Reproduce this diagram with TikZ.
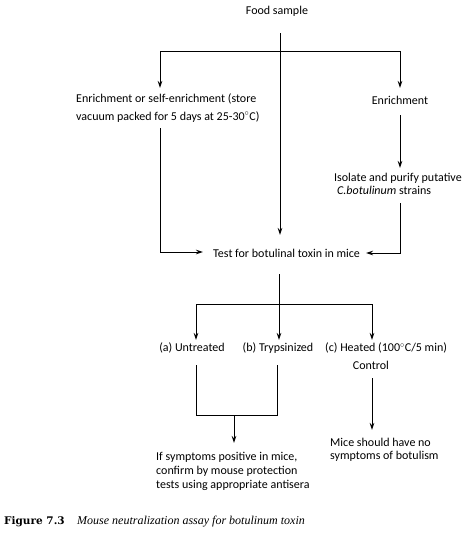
\documentclass[tikz,border=0pt]{standalone}
\usepackage{fontspec}
\setmainfont{Carlito}
\newfontfamily\capfont{Liberation Serif}
\newfontfamily\figfont{DejaVu Serif}
\usetikzlibrary{arrows.meta}
\begin{document}
\begin{tikzpicture}[x=1pt,y=-1pt,
  lbl/.style={inner sep=0pt,font=\fontsize{12}{14}\selectfont},
  ln/.style={line width=1pt},
  arr/.style={line width=1pt,-{Stealth[length=7pt,width=4.5pt]}}]
\useasboundingbox (0,0) rectangle (468,533);
% text nodes
\node[lbl] (food) at (277,11) {Food sample};
\node[lbl,anchor=west,align=left,font=\fontsize{12}{17.5}\selectfont] (enr1) at (76,108) {Enrichment or self-enrichment (store\\vacuum packed for 5 days at 25-30$^{\circ}$C)};
\node[lbl] (enr2) at (400,100) {Enrichment};
\node[lbl,anchor=west,align=left,font=\fontsize{12}{13}\selectfont] (iso) at (334,183.5) {Isolate and purify putative\\\hspace*{3pt}\textit{C.botulinum} strains};
\node[lbl,anchor=west] (test) at (213,253) {Test for botulinal toxin in mice};
\node[lbl] (ua) at (192,348) {(a) Untreated};
\node[lbl] (tb) at (278,348) {(b) Trypsinized};
\node[lbl,anchor=west] (hc) at (325,348) {(c) Heated (100$^{\circ}$C/5 min)};
\node[lbl] (ctrl) at (371,365) {Control};
\node[lbl,anchor=west,align=left,font=\fontsize{12}{13}\selectfont] (mice) at (330,449.5) {Mice should have no\\symptoms of botulism};
\node[lbl,anchor=west,align=left] (pos) at (156,471) {If symptoms positive in mice,\\confirm by mouse protection\\tests using appropriate antisera};
\node[inner sep=0pt,anchor=west,font=\figfont\bfseries\fontsize{10.5}{14}\selectfont] (fig) at (4,522) {Figure 7.3};
\node[inner sep=0pt,anchor=west,font=\capfont\itshape\fontsize{12}{14}\selectfont] (cap) at (77,522) {Mouse neutralization assay for botulinum toxin};
% junction coordinates
\coordinate (f0) at (280,33);
\coordinate (fj) at (280,51);
\coordinate (lj) at (160,51);
\coordinate (rj) at (400,51);
\coordinate (la) at (160,88);
\coordinate (ra) at (400,88);
\coordinate (ftip) at (280,235);
\coordinate (l0) at (160,128);
\coordinate (lc) at (160,252);
\coordinate (ltip) at (203,252);
\coordinate (e0) at (400,115);
\coordinate (etip) at (400,168);
\coordinate (i0) at (400,203);
\coordinate (ic) at (400,253);
\coordinate (itip) at (366,253);
\coordinate (t0) at (279,274);
\coordinate (tj) at (279,304);
\coordinate (tl) at (196,304);
\coordinate (tr) at (372,304);
\coordinate (ttip) at (279,340);
\coordinate (tla) at (196,340);
\coordinate (tra) at (372,340);
\coordinate (a0) at (196,365);
\coordinate (ab) at (196,415);
\coordinate (b0) at (277,365);
\coordinate (bb) at (277,415);
\coordinate (mj) at (234,415);
\coordinate (mtip) at (234,443);
\coordinate (c0) at (372,378);
\coordinate (ctip) at (372,430);
% connectors
\draw[arr] (f0) -- (ftip);
\draw[arr] (fj) -- (lj) -- (la);
\draw[arr] (fj) -- (rj) -- (ra);
\draw[arr] (l0) -- (lc) -- (ltip);
\draw[arr] (e0) -- (etip);
\draw[arr] (i0) -- (ic) -- (itip);
\draw[arr] (t0) -- (ttip);
\draw[arr] (tj) -- (tl) -- (tla);
\draw[arr] (tj) -- (tr) -- (tra);
\draw[ln] (a0) -- (ab) -- (bb) -- (b0);
\draw[arr] (mj) -- (mtip);
\draw[arr] (c0) -- (ctip);
\end{tikzpicture}
\end{document}
